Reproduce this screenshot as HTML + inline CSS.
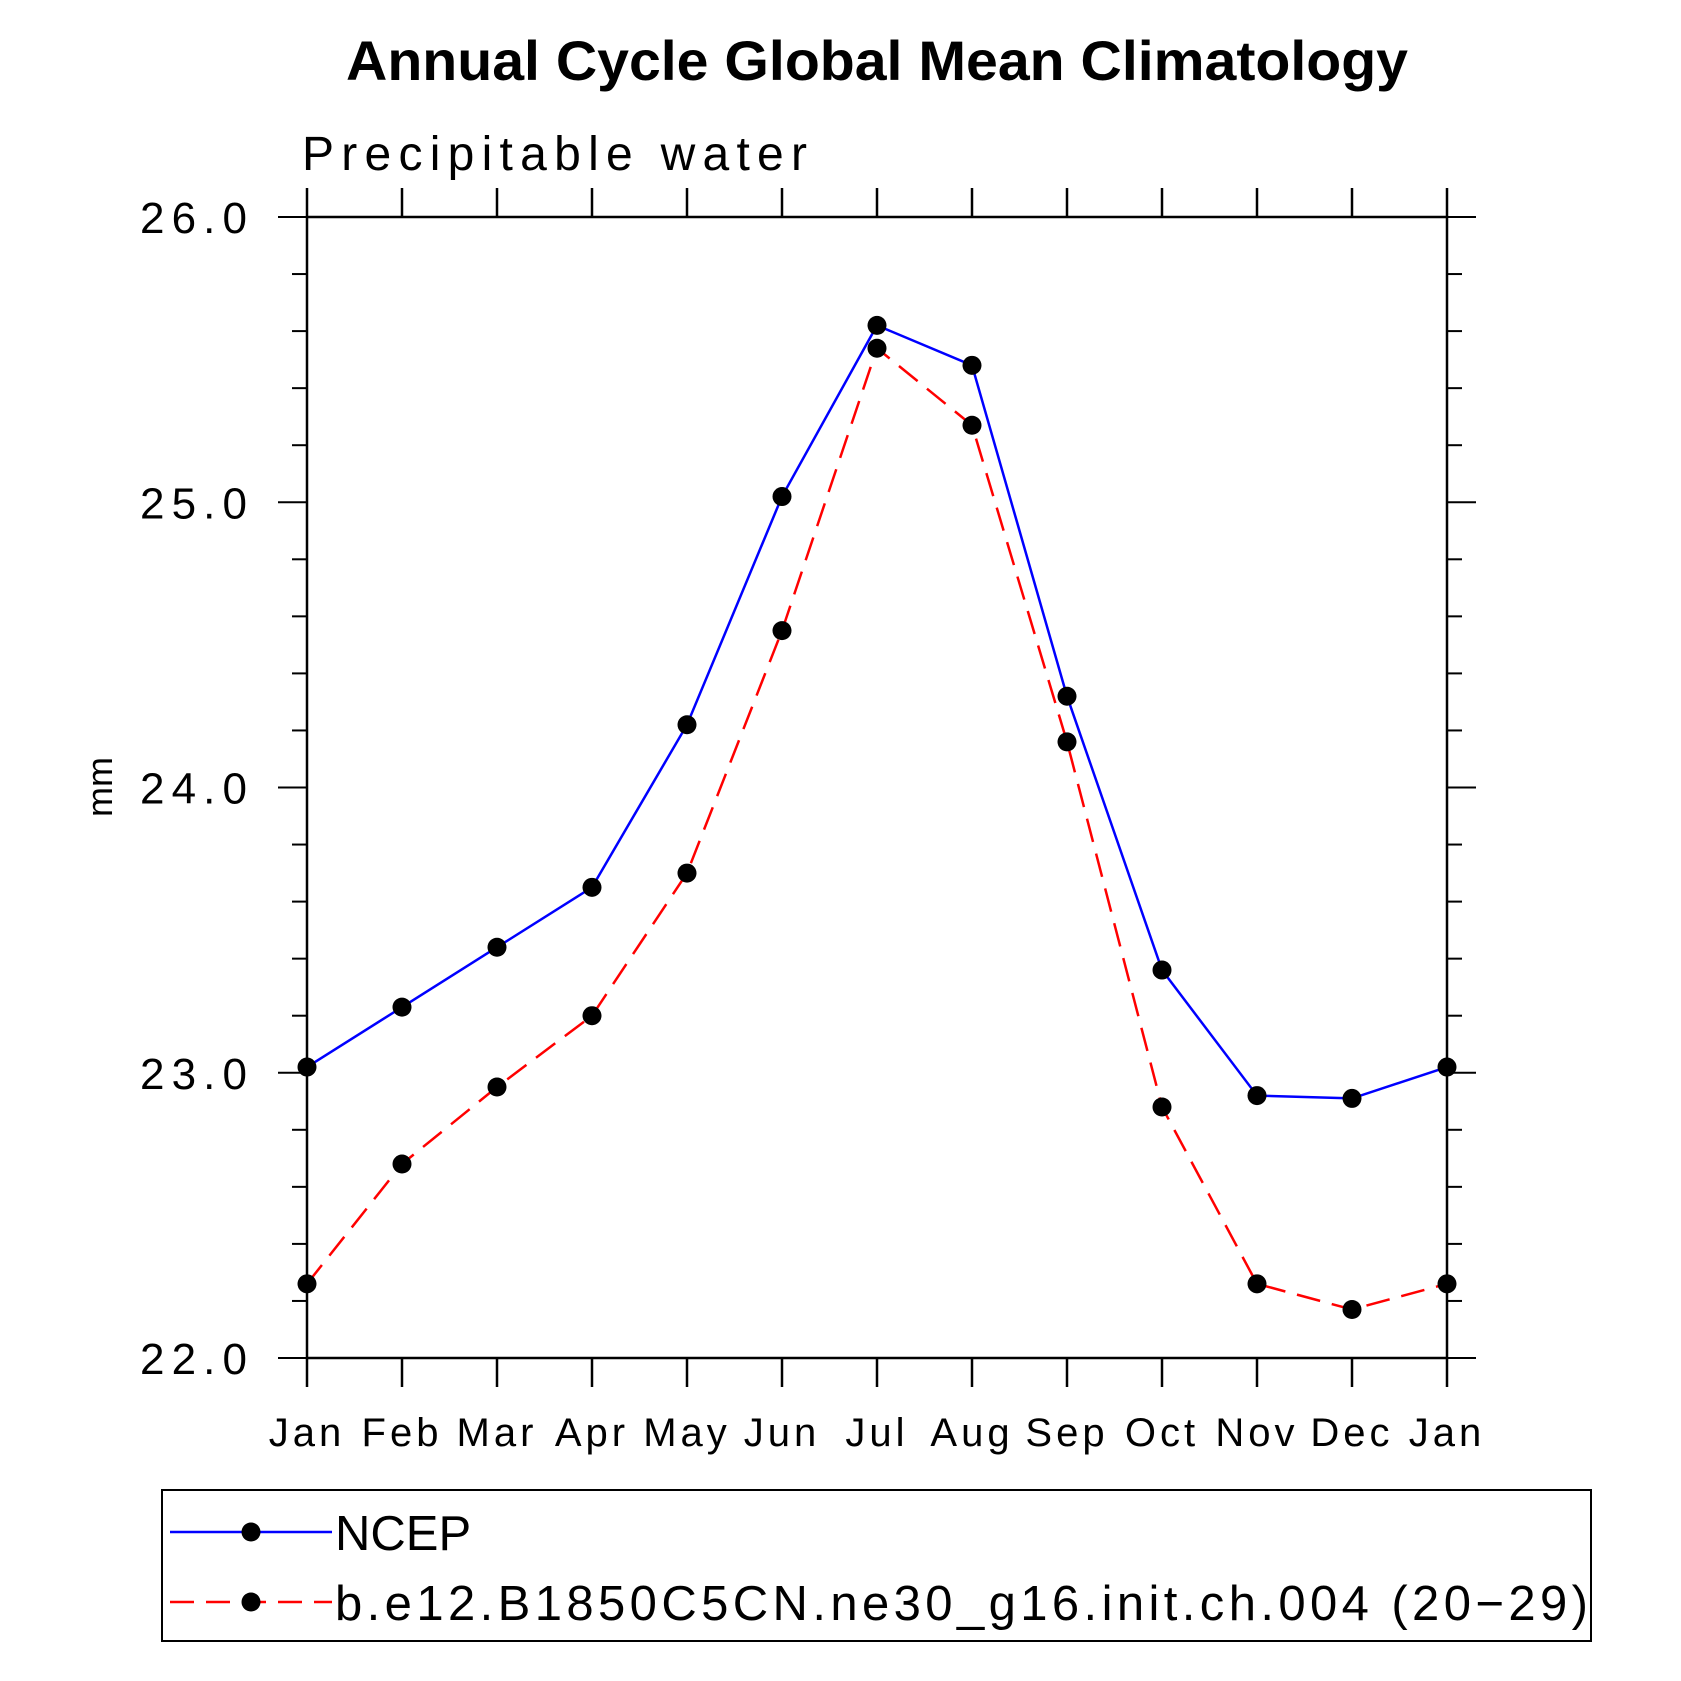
<!DOCTYPE html>
<html><head><meta charset="utf-8"><style>
html,body{margin:0;padding:0;background:#fff;}
svg{display:block;font-family:"Liberation Sans",sans-serif;}
</style></head><body>
<svg id="chart" width="1681" height="1681" viewBox="0 0 1681 1681">
<text x="877" y="80" text-anchor="middle" font-size="56" font-weight="bold" textLength="1062" lengthAdjust="spacingAndGlyphs">Annual Cycle Global Mean Climatology</text>
<text x="302" y="170" font-size="48" textLength="505" lengthAdjust="spacing">Precipitable water</text>
<text transform="translate(112,787) rotate(-90)" text-anchor="middle" font-size="36">mm</text>
<g id="axes"></g>
<g id="series"></g>
<rect x="162" y="1490" width="1429" height="151" fill="none" stroke="#000" stroke-width="2"/>
<g id="legend"></g>
</svg>
<script>
const months = ["Jan","Feb","Mar","Apr","May","Jun","Jul","Aug","Sep","Oct","Nov","Dec","Jan"];
const ncep = [23.02,23.23,23.44,23.65,24.22,25.02,25.62,25.48,24.32,23.36,22.92,22.91,23.02];
const model = [22.26,22.68,22.95,23.20,23.70,24.55,25.54,25.27,24.16,22.88,22.26,22.17,22.26];
const yTicks = [22,23,24,25,26];
const yTickLabels = ["22.0","23.0","24.0","25.0","26.0"];
const seriesNames = ["NCEP","b.e12.B1850C5CN.ne30_g16.init.ch.004 (20\u221229)"];

const NS="http://www.w3.org/2000/svg";
const L=307,R=1447,T=217,B=1358,yMin=22,yMax=26;
const xS=i=>L+(R-L)*i/(months.length-1);
const yS=v=>B-(B-T)*(v-yMin)/(yMax-yMin);
function mk(tag,attrs,parent){const e=document.createElementNS(NS,tag);for(const k in attrs)e.setAttribute(k,attrs[k]);parent.appendChild(e);return e;}
const ax=document.getElementById('axes');
const frame=mk('rect',{x:L,y:T,width:R-L,height:B-T,fill:'none',stroke:'#000','stroke-width':2.5},ax);


months.forEach((m,i)=>{
  const x=xS(i);
  const t1=mk('line',{x1:x,x2:x,y1:B,y2:B+29,stroke:'#000','stroke-width':2.5},ax);
  
  
  const t2=mk('line',{x1:x,x2:x,y1:T,y2:T-29,stroke:'#000','stroke-width':2.5},ax);
  
  
  const tx=mk('text',{x:x,y:1446,'text-anchor':'middle','font-size':40,'letter-spacing':4},ax);
  tx.textContent=m;
  
  
});
for(let v=yMin;v<=yMax+1e-6;v+=0.2){
  const y=yS(v);const major=Math.abs(v-Math.round(v))<1e-6;
  const len=major?29:15;
  const a=mk('line',{x1:L-len,x2:L,y1:y,y2:y,stroke:'#000','stroke-width':2},ax);
  
  
  const b=mk('line',{x1:R,x2:R+len,y1:y,y2:y,stroke:'#000','stroke-width':2},ax);
  
  
}
yTicks.forEach((v,i)=>{
  const t=mk('text',{x:140,y:yS(v)+16,'font-size':44,textLength:107,lengthAdjust:'spacing'},ax);
  t.textContent=yTickLabels[i];
  
  
});
const sg=document.getElementById('series');
function draw(data,color,dash,name){
  const pts=data.map((v,i)=>xS(i)+','+yS(v)).join(' ');
  const pl=mk('polyline',{points:pts,fill:'none',stroke:color,'stroke-width':2.5,'stroke-dasharray':dash},sg);
  
  
  data.forEach((v,i)=>{
    const c=mk('circle',{cx:xS(i),cy:yS(v),r:9.5,fill:'#000'},sg);
    
    
  });
}
draw(ncep,'#00f','none','ncep');
draw(model,'#f00','24 12','model');
const lg=document.getElementById('legend');
[['#00f','none',1532,0],['#f00','24 12',1602,1253]].forEach((s,i)=>{
  const ln=mk('line',{x1:170,x2:332,y1:s[2],y2:s[2],stroke:s[0],'stroke-width':2.5,'stroke-dasharray':s[1]},lg);
  
  
  const c=mk('circle',{cx:251,cy:s[2],r:9.5,fill:'#000'},lg);
  
  
  const attrs={x:335,y:s[2]+18,'font-size':49};
  if(s[3]){attrs.textLength=s[3];attrs.lengthAdjust='spacing';}
  const t=mk('text',attrs,lg);
  t.textContent=seriesNames[i];
  
  
});
</script>
</body></html>
